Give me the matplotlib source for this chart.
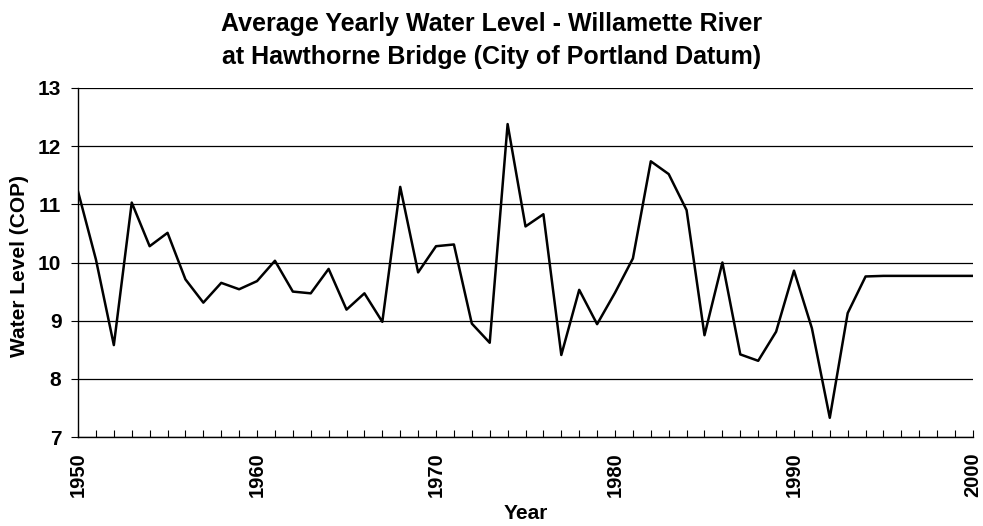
import matplotlib
matplotlib.use("Agg")
import matplotlib.pyplot as plt
import numpy as np

years = list(range(1950, 2001))
levels = [11.22, 10.05, 8.58, 11.03, 10.28, 10.51, 9.71, 9.31, 9.65, 9.54,
          9.68, 10.03, 9.50, 9.47, 9.89, 9.19, 9.47, 8.98, 11.30, 9.83,
          10.28, 10.31, 8.95, 8.62, 12.38, 10.62, 10.83, 8.41, 9.53, 8.94,
          9.48, 10.07, 11.74, 11.52, 10.90, 8.75, 10.00, 8.42, 8.31, 8.81,
          9.86, 8.87, 7.33, 9.13, 9.76, 9.77, 9.77, 9.77, 9.77, 9.77, 9.77]
xtick_labels = ["1950", "1960", "1970", "1980", "1990", "2000"]
ytick_vals = [7, 8, 9, 10, 11, 12, 13]

plt.rcParams['font.family'] = ['Liberation Sans', 'DejaVu Sans']

fig = plt.figure(figsize=(9.83, 5.26), dpi=100)
ax = fig.add_axes([0.0794, 0.1692, 0.9104, 0.6635])

ax.plot(years, levels, color='black', linewidth=1.8, zorder=3)
ax.set_xlim(1950, 2000)
ax.set_ylim(7, 13)

ax.set_yticks(ytick_vals)
ax.set_yticklabels([str(v) for v in ytick_vals], fontsize=15, fontweight='bold')
ax.set_xticks([int(s) for s in xtick_labels])
ax.set_xticklabels(xtick_labels, rotation=90, fontsize=14.5, fontweight='bold')
ax.set_xticks(years, minor=True)
ax.tick_params(axis='x', which='both', direction='in', length=5, width=0.8, pad=11)
ax.tick_params(axis='y', direction='out', length=5, width=0.8, pad=7)

ax.grid(axis='y', color='black', linewidth=0.9)
ax.set_axisbelow(True)
for s in ['top', 'right']:
    ax.spines[s].set_visible(False)
ax.spines['left'].set_linewidth(1.0)
ax.spines['bottom'].set_linewidth(1.0)

ax.set_ylabel("Water Level (COP)", fontsize=15, fontweight='bold')
ax.yaxis.set_label_coords(-0.055, 0.49)
ax.set_xlabel("Year", fontsize=15, fontweight='bold', va='top')
ax.xaxis.set_label_coords(0.5, -0.192)
fig.suptitle("Average Yearly Water Level - Willamette River\nat Hawthorne Bridge (City of Portland Datum)",
             fontsize=18, fontweight='bold', y=1 - 12 / 526, va='top', linespacing=1.45)

fig.savefig("out.png", dpi=100, facecolor='white')
